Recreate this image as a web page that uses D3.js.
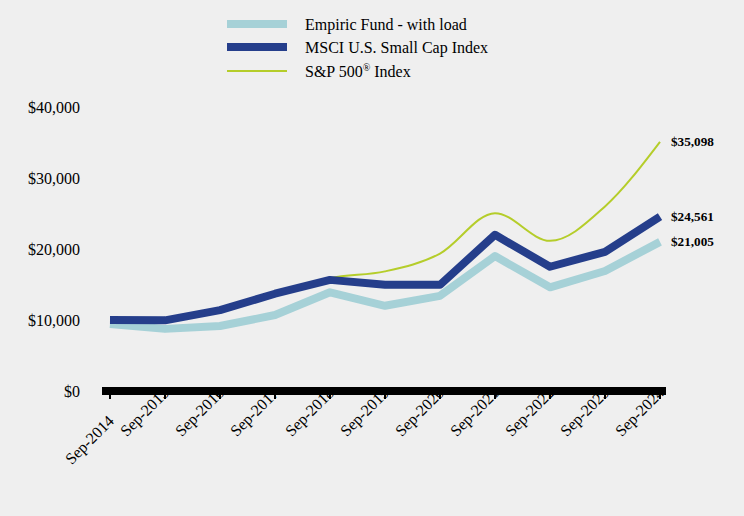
<!DOCTYPE html>
<html><head><meta charset="utf-8">
<script src="https://cdn.jsdelivr.net/npm/d3@7"></script>
<style>body{margin:0;background:#efefef}svg{display:block}</style>
</head><body>
<svg id="c" width="744" height="516"></svg>
<script>
const years = ["Sep-2014","Sep-2015","Sep-2016","Sep-2017","Sep-2018","Sep-2019","Sep-2020","Sep-2021","Sep-2022","Sep-2023","Sep-2024"];
const fund = [9450, 8750, 9150, 10700, 13900, 12000, 13400, 19000, 14600, 16900, 21005];
const msci = [10000, 9950, 11400, 13700, 15650, 14950, 14950, 22000, 17500, 19600, 24561];
const sp500 = [10000, 10100, 11350, 13450, 15900, 16850, 19350, 25050, 21150, 26000, 35098];
const yTicks = [0, 10000, 20000, 30000, 40000];
const seriesNames = ["Empiric Fund - with load", "MSCI U.S. Small Cap Index", "S&P 500"];

const svg = d3.select("#c");
svg.append("rect").attr("width",744).attr("height",516).attr("fill","#efefef");
const x = d3.scalePoint().domain(years).range([110,660]);
const y = d3.scaleLinear().domain([0,40000]).range([391,107]);
const serif = "'Liberation Serif','Times New Roman',serif";

// y axis labels
svg.append("g").selectAll("text").data(yTicks).join("text")
  .attr("x",80).attr("y",d=>y(d)).attr("dy","0.35em").attr("text-anchor","end")
  .attr("font-family",serif).attr("font-size",16).attr("fill","#000")
  .text(d=>d3.format("$,")(d));

// x tick labels
svg.append("g").selectAll("text").data(years).join("text")
  .attr("transform",(d,i)=>`translate(${x(d)+5},${i===0?422:394}) rotate(-45)`)
  .attr("text-anchor","end")
  .attr("font-family",serif).attr("font-size",16).attr("fill","#000")
  .text(d=>d);

const colors = {fund:"#a6d1d7", msci:"#253e8b", sp:"#b5cd2a"};
const line = d3.line().x((d,i)=>x(years[i])).y(d=>y(d));
const smooth = d3.line().x((d,i)=>x(years[i])).y(d=>y(d)).curve(d3.curveMonotoneX);

svg.append("path").datum(sp500).attr("d",smooth).attr("fill","none").attr("stroke",colors.sp).attr("stroke-width",2);
svg.append("path").datum(fund).attr("d",line).attr("fill","none").attr("stroke",colors.fund).attr("stroke-width",8).attr("stroke-linejoin","round");
svg.append("path").datum(msci).attr("d",line).attr("fill","none").attr("stroke",colors.msci).attr("stroke-width",8).attr("stroke-linejoin","round");

// axis bar
svg.append("rect").attr("x",102).attr("y",387).attr("width",564).attr("height",8).attr("fill","#000");
svg.append("g").selectAll("rect").data(years).join("rect")
  .attr("x",d=>x(d)-1).attr("y",395).attr("width",2).attr("height",4).attr("fill","#000");

// end labels
const ends = [sp500[10], msci[10], fund[10]];
svg.append("g").selectAll("text").data(ends).join("text")
  .attr("x",671).attr("y",d=>y(d)).attr("dy","0.35em")
  .attr("font-family",serif).attr("font-size",13.2).attr("font-weight","bold").attr("fill","#000")
  .text(d=>d3.format("$,")(d));

// legend
const leg = [
  {name:seriesNames[0], c:colors.fund, w:8, y:24},
  {name:seriesNames[1], c:colors.msci, w:8, y:47},
  {name:seriesNames[2], c:colors.sp, w:2, y:71}
];
const lg = svg.append("g");
leg.forEach(l=>{
  lg.append("line").attr("x1",227).attr("x2",287).attr("y1",l.y).attr("y2",l.y).attr("stroke",l.c).attr("stroke-width",l.w);
});
const fs = 16;
lg.append("text").attr("x",305).attr("y",24).attr("dy","0.35em").attr("font-family",serif).attr("font-size",fs).text(seriesNames[0]);
lg.append("text").attr("x",305).attr("y",47).attr("dy","0.35em").attr("font-family",serif).attr("font-size",fs).text(seriesNames[1]);
const t3 = lg.append("text").attr("x",305).attr("y",71).attr("dy","0.35em").attr("font-family",serif).attr("font-size",fs);
t3.append("tspan").text(seriesNames[2]);
t3.append("tspan").attr("font-size",10).attr("dy","-6").text("®");
t3.append("tspan").attr("dy","6").text(" Index");
</script>
</body></html>
